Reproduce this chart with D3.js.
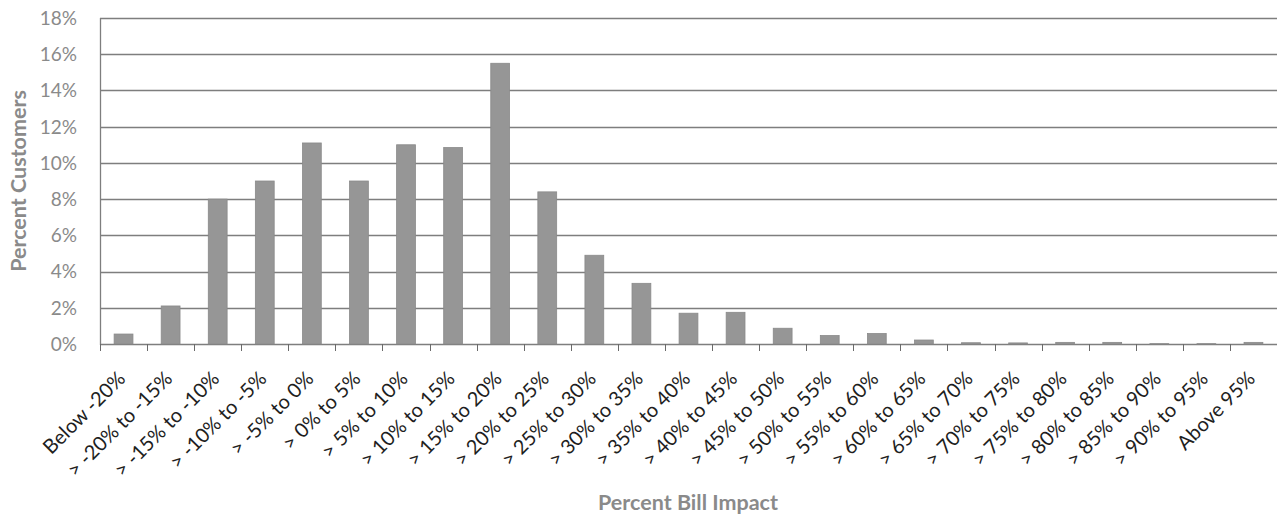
<!DOCTYPE html>
<html>
<head>
<meta charset="utf-8">
<script src="https://cdn.jsdelivr.net/npm/d3@7/dist/d3.min.js"></script>
<style>
  html, body { margin: 0; padding: 0; background: #fff; }
  svg { display: block; }
  text { font-family: Lato, "Open Sans", sans-serif; }
</style>
</head>
<body>
<svg id="chart" width="1277" height="518"></svg>
<script>
// Bill impact bins
const categories = [
  "Below -20%", "> -20% to -15%", "> -15% to -10%", "> -10% to -5%", "> -5% to 0%",
  "> 0% to 5%", "> 5% to 10%", "> 10% to 15%", "> 15% to 20%", "> 20% to 25%",
  "> 25% to 30%", "> 30% to 35%", "> 35% to 40%", "> 40% to 45%", "> 45% to 50%",
  "> 50% to 55%", "> 55% to 60%", "> 60% to 65%", "> 65% to 70%", "> 70% to 75%",
  "> 75% to 80%", "> 80% to 85%", "> 85% to 90%", "> 90% to 95%", "Above 95%"
];
// Share of customers in each bin (percent)
const percentCustomers = [
  0.55, 2.1, 8.0, 9.0, 11.1,
  9.0, 11.0, 10.85, 15.5, 8.4,
  4.9, 3.35, 1.7, 1.75, 0.87,
  0.47, 0.58, 0.22, 0.07, 0.06,
  0.09, 0.09, 0.02, 0.02, 0.09
];
const yTicks = [0, 2, 4, 6, 8, 10, 12, 14, 16, 18];

const svg = d3.select("#chart");
const plotLeft = 100, plotRight = 1277, plotTop = 18, plotBottom = 344;

const x = d3.scaleBand().domain(categories).range([plotLeft, plotRight]).paddingInner(0.6).paddingOuter(0.3);
const xEdges = d3.scaleBand().domain(categories).range([plotLeft, plotRight]);
const y = d3.scaleLinear().domain([0, 18]).range([plotBottom, plotTop]);

// horizontal gridlines
svg.append("g").selectAll("line").data(yTicks).join("line")
  .attr("x1", plotLeft).attr("x2", plotRight)
  .attr("y1", d => Math.round(y(d)) + 0.5).attr("y2", d => Math.round(y(d)) + 0.5)
  .attr("stroke", "#7e7e7e").attr("stroke-width", 1.3);

// value axis line
svg.append("line")
  .attr("x1", plotLeft + 0.5).attr("x2", plotLeft + 0.5)
  .attr("y1", plotTop).attr("y2", plotBottom + 1)
  .attr("stroke", "#7e7e7e").attr("stroke-width", 1.3);

// value axis labels
svg.append("g").selectAll("text").data(yTicks).join("text")
  .attr("x", 77).attr("y", d => y(d))
  .attr("dy", "0.36em").attr("text-anchor", "end")
  .attr("font-size", 19).attr("fill", "#8a8a8a")
  .text(d => d + "%");

// category tick marks at bin boundaries
svg.append("g").selectAll("line").data(categories).join("line")
  .attr("x1", d => Math.round(xEdges(d)) + 0.5).attr("x2", d => Math.round(xEdges(d)) + 0.5)
  .attr("y1", plotBottom).attr("y2", plotBottom + 7)
  .attr("stroke", "#6a6a6a").attr("stroke-width", 1);

// bars
svg.append("g").selectAll("rect").data(categories).join("rect")
  .attr("x", d => x(d))
  .attr("width", x.bandwidth())
  .attr("y", (d, i) => y(percentCustomers[i]))
  .attr("height", (d, i) => plotBottom - y(percentCustomers[i]))
  .attr("fill", "#969696")
  .attr("stroke", "#8a8a8a").attr("stroke-width", 0.8);

// rotated category labels
svg.append("g").selectAll("text").data(categories).join("text")
  .attr("transform", d => `translate(${xEdges(d) + xEdges.bandwidth() / 2 + 3},${plotBottom + 36}) rotate(-45)`)
  .attr("text-anchor", "end")
  .attr("font-size", 20).attr("fill", "#1e1e1e")
  .text(d => d);

// axis titles
svg.append("text")
  .attr("transform", `translate(26,${(plotTop + plotBottom) / 2}) rotate(-90)`)
  .attr("text-anchor", "middle")
  .attr("font-size", 21.5).attr("font-weight", "bold").attr("fill", "#8a8a8a")
  .text("Percent Customers");

svg.append("text")
  .attr("x", 688).attr("y", 510)
  .attr("text-anchor", "middle")
  .attr("font-size", 21.5).attr("font-weight", "bold").attr("fill", "#8a8a8a")
  .text("Percent Bill Impact");
</script>
</body>
</html>
